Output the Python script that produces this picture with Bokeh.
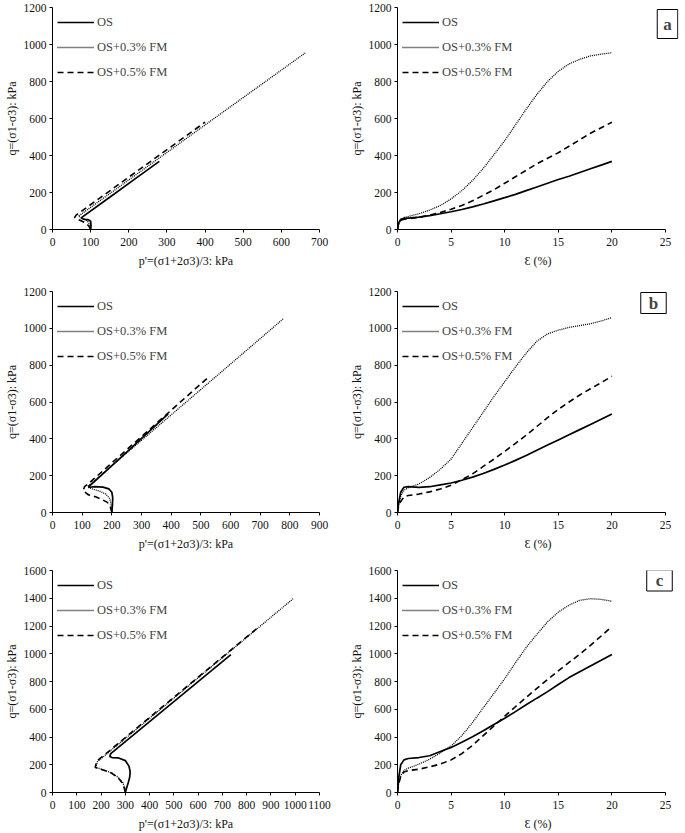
from bokeh.plotting import figure
from bokeh.layouts import column, row
from bokeh.models import FixedTicker, Label, Range1d
from bokeh.embed import file_html
from bokeh.resources import INLINE

# ---------------- data ----------------
SERIES = ["OS", "OS+0.3% FM", "OS+0.5% FM"]

# Panel a (confining 100 kPa)
a_p_os = [100, 101, 100, 95, 85, 78, 76, 150, 220, 280]
a_q_os = [0, 20, 45, 52, 55, 58, 64, 174, 279, 368]
a_p_03 = [100, 98, 92, 82, 72, 68, 200, 400, 665]
a_q_03 = [0, 25, 45, 58, 66, 72, 268, 565, 958]
a_p_05 = [100, 95, 85, 72, 62, 58, 62, 200, 400]
a_q_05 = [0, 20, 38, 50, 58, 65, 78, 283, 580]

strain = [0, 0.1, 0.3, 0.6, 1, 2, 3, 4, 5, 6, 7, 8, 9, 10, 11, 12, 13, 14, 15, 16, 17, 18, 19, 20]
a_e_os = [0, 35, 55, 60, 62, 67, 75, 85, 96, 108, 122, 138, 155, 172, 190, 210, 230, 250, 270, 288, 308, 328, 348, 368]
a_e_03 = [0, 30, 50, 65, 70, 85, 105, 130, 165, 210, 265, 330, 405, 480, 565, 650, 730, 800, 855, 895, 920, 938, 948, 955]
a_e_05 = [0, 30, 50, 55, 58, 65, 78, 92, 110, 130, 155, 185, 215, 250, 285, 320, 355, 385, 415, 450, 485, 520, 550, 580]

# Panel b (confining 200 kPa)
b_p_os = [200, 202, 203, 200, 190, 170, 145, 125, 122, 130, 250, 390]
b_q_os = [0, 40, 80, 110, 128, 138, 140, 137, 142, 152, 328, 535]
b_p_03 = [200, 198, 193, 180, 160, 140, 122, 120, 125, 300, 500, 700, 780]
b_q_03 = [0, 40, 75, 100, 115, 125, 135, 145, 150, 392, 668, 944, 1055]
b_p_05 = [200, 195, 185, 165, 145, 120, 103, 108, 127, 300, 527]
b_q_05 = [0, 30, 55, 72, 85, 97, 118, 140, 165, 412, 737]

b_e_os = [0, 50, 110, 137, 140, 136, 140, 150, 160, 175, 192, 212, 234, 258, 283, 310, 338, 366, 394, 422, 450, 478, 506, 535]
b_e_03 = [0, 40, 90, 120, 135, 155, 190, 235, 290, 375, 460, 545, 630, 710, 790, 865, 930, 970, 990, 1005, 1015, 1025, 1040, 1058]
b_e_05 = [0, 35, 60, 85, 92, 100, 112, 128, 148, 178, 210, 250, 290, 332, 375, 420, 467, 515, 560, 600, 638, 672, 705, 740]

# Panel c (confining 300 kPa)
c_p_os = [300, 305, 312, 318, 320, 315, 300, 270, 245, 236, 240, 400, 600, 735]
c_q_os = [0, 30, 70, 110, 150, 190, 230, 250, 252, 260, 280, 511, 799, 994]
c_p_03 = [300, 298, 290, 270, 245, 215, 190, 178, 185, 400, 700, 991]
c_q_03 = [0, 30, 70, 110, 140, 160, 175, 178, 222, 535, 972, 1396]
c_p_05 = [300, 296, 287, 268, 243, 212, 188, 176, 182, 400, 600, 851]
c_q_05 = [0, 30, 70, 110, 140, 160, 175, 181, 225, 541, 831, 1195]

c_e_os = [0, 100, 200, 235, 245, 252, 265, 295, 325, 362, 402, 445, 490, 535, 583, 632, 680, 727, 778, 828, 870, 912, 953, 995]
c_e_03 = [0, 60, 120, 160, 175, 204, 240, 285, 335, 410, 505, 610, 715, 820, 935, 1045, 1140, 1230, 1300, 1350, 1385, 1397, 1392, 1378]
c_e_05 = [0, 60, 115, 148, 158, 168, 185, 205, 235, 280, 340, 410, 480, 550, 618, 685, 750, 815, 877, 937, 997, 1060, 1128, 1195]

# ---------------- styling ----------------
FONT = "Liberation Serif"
STYLES = [
    dict(line_color="black", line_width=1.7, line_dash="solid"),
    dict(line_color="black", line_width=1.3, line_dash="1 1"),
    dict(line_color="black", line_width=1.6, line_dash="6 4"),
]
LB = 52
FW_LEFT, RB_LEFT = 267, 26
FW_RIGHT, RB_RIGHT = 281, 7      # right panels: frame runs a bit past 25 % for the panel tag
EPS_FRAME_END = 25 * 281 / 268


def make(xmax, xstep, ymax, xlabel, series, left_fig, top, fh, bottom, box=None):
    xend = xmax if left_fig else EPS_FRAME_END
    p = figure(frame_width=FW_LEFT if left_fig else FW_RIGHT, frame_height=fh,
               x_range=Range1d(0, xend), y_range=Range1d(0, ymax),
               output_backend="svg", toolbar_location=None,
               min_border_left=LB, min_border_right=RB_LEFT if left_fig else RB_RIGHT,
               min_border_top=top, min_border_bottom=bottom)
    p.grid.visible = False
    p.outline_line_color = None
    for (xs, ys), name, st in zip(series, SERIES, STYLES):
        p.line(xs, ys, legend_label=name, **st)
    p.xaxis.ticker = FixedTicker(ticks=list(range(0, xmax + 1, xstep)))
    p.xaxis.bounds = (0, xmax)
    p.yaxis.ticker = FixedTicker(ticks=list(range(0, ymax + 1, 200)))
    for ax in (p.xaxis[0], p.yaxis[0]):
        ax.axis_line_color = "black"
        ax.major_tick_line_color = "black"
        ax.major_tick_out = 3
        ax.major_tick_in = 0
        ax.minor_tick_out = 0
        ax.minor_tick_in = 0
        ax.major_label_text_font = FONT
        ax.major_label_text_font_size = "11.5px"
        ax.major_label_text_color = "#111111"
        ax.axis_label_text_font = FONT
        ax.axis_label_text_font_size = "12px"
        ax.axis_label_text_font_style = "normal"
        ax.axis_label_text_color = "#111111"
    p.xaxis.axis_label = xlabel
    p.xaxis.major_label_standoff = 5
    p.xaxis.axis_label_standoff = 5
    p.yaxis.axis_label = "q=(σ1-σ3): kPa"
    p.yaxis.major_label_standoff = 3
    p.yaxis.axis_label_standoff = 2
    lg = p.legend[0]
    lg.location = "top_left"
    lg.border_line_color = None
    lg.background_fill_alpha = 0
    lg.margin = 5
    lg.padding = 5
    lg.spacing = 5
    lg.glyph_width = 37
    lg.glyph_height = 20
    lg.label_height = 20
    lg.label_standoff = 3
    lg.label_text_font = FONT
    lg.label_text_font_size = "12.5px"
    if box is not None:
        txt, bx, by, pad = box
        p.add_layout(Label(x=bx, y=by, x_units="screen", y_units="screen", text=txt,
                           text_font=FONT, text_font_style="bold", text_font_size="17px",
                           text_align="center", text_baseline="middle",
                           background_fill_color="white", border_line_color="black",
                           border_line_width=1, padding=pad))
    return p


PX = "p'=(σ1+2σ3)/3: kPa"
EX = "Ɛ (%)"

f1 = make(700, 100, 1200, PX, [(a_p_os, a_q_os), (a_p_03, a_q_03), (a_p_05, a_q_05)], True, 7, 222, 56)
f2 = make(25, 5, 1200, EX, [(strain, a_e_os), (strain, a_e_03), (strain, a_e_05)], False, 7, 222, 56,
          box=("a", 270, 222 - 16.5, dict(left=6, right=6, top=5, bottom=5)))
f3 = make(900, 100, 1200, PX, [(b_p_os, b_q_os), (b_p_03, b_q_03), (b_p_05, b_q_05)], True, 6, 221, 53)
f4 = make(25, 5, 1200, EX, [(strain, b_e_os), (strain, b_e_03), (strain, b_e_05)], False, 6, 221, 53,
          box=("b", 256, 221 - 11.5, dict(left=8, right=8, top=1, bottom=1)))
f5 = make(1100, 100, 1600, PX, [(c_p_os, c_q_os), (c_p_03, c_q_03), (c_p_05, c_q_05)], True, 5, 222, 40)
f6 = make(25, 5, 1600, EX, [(strain, c_e_os), (strain, c_e_03), (strain, c_e_05)], False, 5, 222, 40,
          box=("c", 262, 222 - 10, dict(left=9, right=9, top=1, bottom=1)))

layout = column(row(f1, f2), row(f3, f4), row(f5, f6))
open("out.html", "w").write(file_html(layout, INLINE))
